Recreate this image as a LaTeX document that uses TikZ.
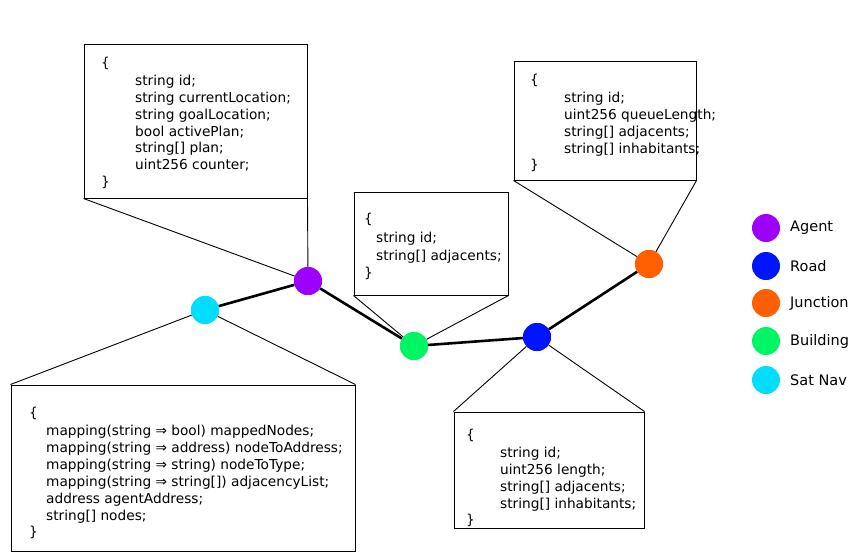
\documentclass[tikz,border=0pt]{standalone}
\usepackage{fontspec}
\setmainfont{DejaVu Sans}
\definecolor{cagent}{RGB}{158,0,255}
\definecolor{croad}{RGB}{0,20,255}
\definecolor{cjunc}{RGB}{255,95,0}
\definecolor{cbuild}{RGB}{0,245,100}
\definecolor{csat}{RGB}{0,221,255}
\begin{document}
\begin{tikzpicture}[x=1pt,y=-1pt,
  box/.style={draw=black,line width=1pt,fill=white,inner sep=0pt},
  thin/.style={draw=black,line width=0.9pt},
  thick/.style={draw=black,line width=2.6pt},
  dot/.style={circle,inner sep=0pt,minimum size=28pt},
  code/.style={anchor=base west,inner sep=0pt,font=\fontsize{13.7}{16}\selectfont},
  leg/.style={anchor=west,inner sep=0pt,font=\fontsize{14.5}{16}\selectfont}]
\useasboundingbox (0,0) rectangle (852,552);
% nodes (circles)
\node[dot,fill=cagent] (agent) at (308,281) {};
\node[dot,fill=csat] (sat) at (205,310) {};
\node[dot,fill=cbuild] (build) at (414,346) {};
\node[dot,fill=croad] (road) at (537,337) {};
\node[dot,fill=cjunc] (junc) at (649,264) {};
% boxes
\node[box,minimum width=223pt,minimum height=154pt] (agentbox) at (195.5,121) {};
\node[box,minimum width=182pt,minimum height=119pt] (juncbox) at (605,120.5) {};
\node[box,minimum width=154pt,minimum height=103pt] (buildbox) at (431,243.5) {};
\node[box,minimum width=344pt,minimum height=166pt] (satbox) at (183,468) {};
\node[box,minimum width=190pt,minimum height=116pt] (roadbox) at (549,470) {};
% callout lines
\draw[thin] (agentbox.south west) -- (agent);
\draw[thin] (agentbox.south east) -- (agent);
\draw[thin] (juncbox.south west) -- (junc);
\draw[thin] (juncbox.south east) -- (junc);
\draw[thin] (buildbox.south west) -- (build);
\draw[thin] (buildbox.south east) -- (build);
\draw[thin] (satbox.north west) -- (sat);
\draw[thin] (satbox.north east) -- (sat);
\draw[thin] (roadbox.north west) -- (road);
\draw[thin] (roadbox.north east) -- (road);
% graph edges
\draw[thick] (sat) -- (agent);
\draw[thick] (agent) -- (build);
\draw[thick] (build) -- (road);
\draw[thick] (road) -- (junc);
% redraw dots on top
\node[dot,fill=cagent] at (agent) {};
\node[dot,fill=csat] at (sat) {};
\node[dot,fill=cbuild] at (build) {};
\node[dot,fill=croad] at (road) {};
\node[dot,fill=cjunc] at (junc) {};
% agent box text
\node[code] (a0) at (101,67) {\{};
\node[code] (a1) at (135,85) {string id;};
\node[code] (a2) at (135,102) {string currentLocation;};
\node[code] (a3) at (135,119) {string goalLocation;};
\node[code] (a4) at (135,136) {bool activePlan;};
\node[code] (a5) at (135,152) {string[] plan;};
\node[code] (a6) at (135,169) {uint256 counter;};
\node[code] (a7) at (101,186) {\}};
% junction box text
\node[code] (j0) at (530,84) {\{};
\node[code] (j1) at (564,102) {string id;};
\node[code] (j2) at (564,119) {uint256 queueLength;};
\node[code] (j3) at (564,136) {string[] adjacents;};
\node[code] (j4) at (564,153) {string[] inhabitants;};
\node[code] (j5) at (530,169) {\}};
% building box text
\node[code] (b0) at (364,223) {\{};
\node[code] (b1) at (376,242) {string id;};
\node[code] (b2) at (376,260) {string[] adjacents;};
\node[code] (b3) at (364,277) {\}};
% satnav box text
\node[code] (s0) at (29,417) {\{};
\node[code] (s1) at (46,435) {mapping(string ⇒ bool) mappedNodes;};
\node[code] (s2) at (46,452) {mapping(string ⇒ address) nodeToAddress;};
\node[code] (s3) at (46,469) {mapping(string ⇒ string) nodeToType;};
\node[code] (s4) at (46,486) {mapping(string ⇒ string[]) adjacencyList;};
\node[code] (s5) at (46,503) {address agentAddress;};
\node[code] (s6) at (46,520) {string[] nodes;};
\node[code] (s7) at (29,536) {\}};
% road box text
\node[code] (r0) at (466,439) {\{};
\node[code] (r1) at (500,457) {string id;};
\node[code] (r2) at (500,474) {uint256 length;};
\node[code] (r3) at (500,491) {string[] adjacents;};
\node[code] (r4) at (500,508) {string[] inhabitants;};
\node[code] (r5) at (466,524) {\}};
% legend
\node[dot,fill=cagent] (la) at (766,228) {};
\node[dot,fill=croad] (lr) at (766,266) {};
\node[dot,fill=cjunc] (lj) at (766,303) {};
\node[dot,fill=cbuild] (lb) at (766,341) {};
\node[dot,fill=csat] (ls) at (766,380) {};
\node[leg] (ta) at (790,228) {Agent};
\node[leg] (tr) at (790,266) {Road};
\node[leg] (tj) at (790,303) {Junction};
\node[leg] (tb) at (790,341) {Building};
\node[leg] (ts) at (790,380) {Sat Nav};
\end{tikzpicture}
\end{document}
